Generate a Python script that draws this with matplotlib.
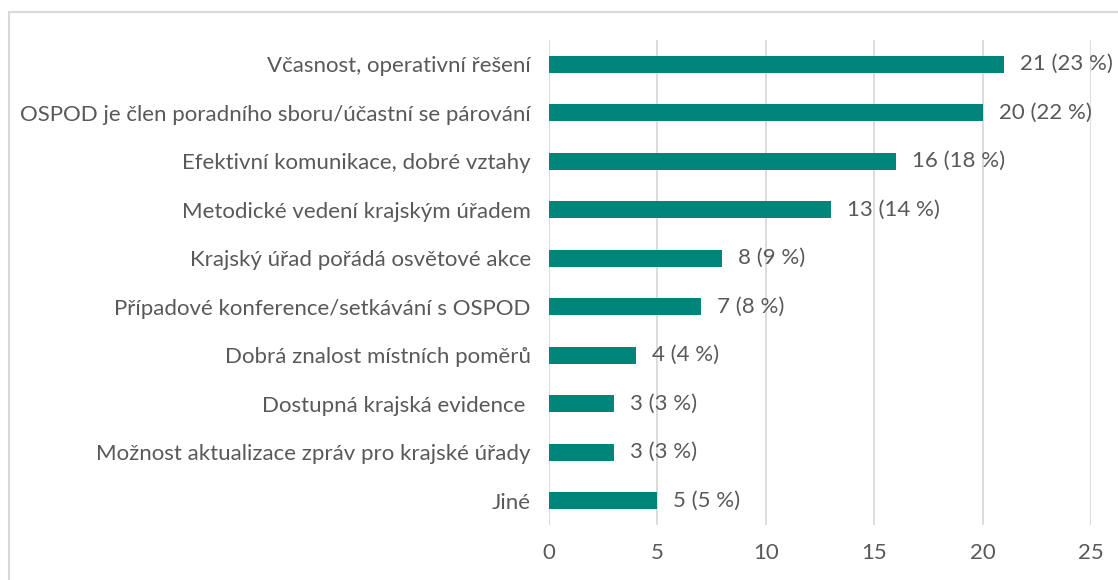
import matplotlib
matplotlib.use("Agg")
import matplotlib.pyplot as plt
from matplotlib.patches import Rectangle

categories = [
    "Včasnost, operativní řešení",
    "OSPOD je člen poradního sboru/účastní se párování",
    "Efektivní komunikace, dobré vztahy",
    "Metodické vedení krajským úřadem",
    "Krajský úřad pořádá osvětové akce",
    "Případové konference/setkávání s OSPOD",
    "Dobrá znalost místních poměrů",
    "Dostupná krajská evidence ",
    "Možnost aktualizace zpráv pro krajské úřady",
    "Jiné",
]
counts = [21, 20, 16, 13, 8, 7, 4, 3, 3, 5]
percents = [23, 22, 18, 14, 9, 8, 4, 3, 3, 5]
xticks = [0, 5, 10, 15, 20, 25]

plt.rcParams['font.family'] = ['Lato', 'DejaVu Sans']
TXT = '#595959'
BAR = '#00857A'
FS = 16

W, H = 1118, 580
fig = plt.figure(figsize=(W / 100, H / 100), dpi=100)
ax = fig.add_axes([549 / W, 55 / H, (1091 - 549) / W, (540 - 55) / H])

n = len(categories)
ypos = list(range(n))
ax.barh(ypos, counts, height=0.36, color=BAR, zorder=3)
ax.set_ylim(n - 0.5, -0.5)
ax.set_xlim(0, 25)
ax.set_xticks(xticks)
ax.set_xticklabels([str(t) for t in xticks])
ax.set_yticks(ypos)
ax.set_yticklabels(categories)
ax.tick_params(axis='both', length=0, labelsize=FS, colors=TXT)
ax.tick_params(axis='y', pad=13)
ax.tick_params(axis='x', pad=13)
ax.grid(axis='x', color='#d9d9d9', linewidth=1.3, zorder=0)
ax.set_axisbelow(True)
for s in ax.spines.values():
    s.set_visible(False)

for y, c, p in zip(ypos, counts, percents):
    ax.annotate(f"{c} ({p} %)", xy=(c, y), xytext=(11.5, 0), textcoords='offset points',
                va='center', ha='left', fontsize=FS, color=TXT)

frame = Rectangle((8.5 / W, -0.1), 1.2, (H - 11.5) / H + 0.1, transform=fig.transFigure,
                  fill=False, edgecolor='#d9d9d9', linewidth=1.5)
fig.patches.append(frame)

fig.savefig("out.png", dpi=100)
